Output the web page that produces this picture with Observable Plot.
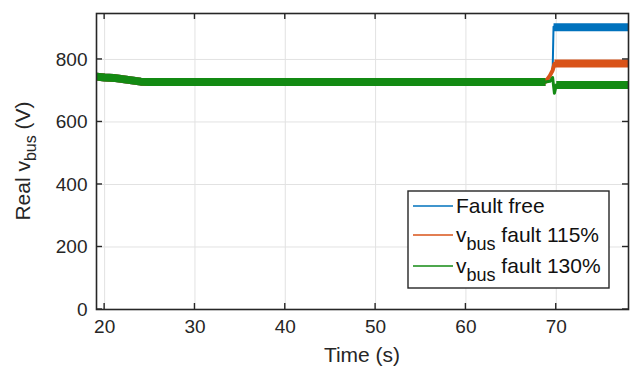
<!DOCTYPE html>
<html>
<head>
<meta charset="utf-8">
<script src="https://cdn.jsdelivr.net/npm/d3@7"></script>
<script src="https://cdn.jsdelivr.net/npm/@observablehq/plot@0.6"></script>
<style>
  html, body { margin: 0; padding: 0; background: #fff; }
  #chart { width: 640px; height: 370px; }
  svg text { font-family: "Liberation Sans", Arial, sans-serif; }
</style>
</head>
<body>
<div id="chart"></div>
<script>
// ---- data ----
// common steady part (all three series overlap)
const sharedTime  = [19.1, 20, 21, 22, 23, 24, 25, 30, 40, 50, 60, 68.8];
const sharedValue = [745, 742, 741, 737, 733, 729, 728, 728, 728, 728, 728, 728];

// transitions around the fault (thin traces)
const blueStepTime   = [68.8, 69.3, 69.6, 69.7];
const blueStepValue  = [728, 745, 762, 905];
const orangeStepTime  = [68.8, 69.3, 69.6, 69.8];
const orangeStepValue = [728, 748, 765, 786];
const greenStepTime  = [68.8, 69.3, 69.6, 69.8, 70.0];
const greenStepValue = [728, 730, 742, 692, 718];

// after the fault (noisy bands)
const blueAfterTime   = [69.7, 72, 75, 78];
const blueAfterValue  = [903, 903, 903, 903];
const orangeAfterTime  = [69.8, 72, 75, 78];
const orangeAfterValue = [787, 787, 787, 787];
const greenAfterTime  = [70.0, 72, 75, 78];
const greenAfterValue = [718, 718, 718, 718];

const xTicks = [20, 30, 40, 50, 60, 70];
const yTicks = [0, 200, 400, 600, 800];

const seriesNames = ["Fault free", "fault 115%", "fault 130%"];
const colors = ["#0072BD", "#D95319", "#138a13"];

const rowsOf = (t, v) => t.map((x, i) => ({t: x, v: v[i]}));
const shared = rowsOf(sharedTime, sharedValue);

const frameColor = "#262626";
const thick = {x: "t", y: "v", strokeWidth: 8, strokeLinejoin: "round", strokeLinecap: "butt"};
const thin = {x: "t", y: "v", strokeWidth: 2, strokeLinejoin: "round"};

const plot = Plot.plot({
  width: 640,
  height: 370,
  marginLeft: 96,
  marginRight: 12,
  marginTop: 13,
  marginBottom: 61,
  style: {fontFamily: "Liberation Sans, Arial, sans-serif", fontSize: "19px", color: "#262626", background: "#fff"},
  x: {domain: [19.1, 78], ticks: xTicks},
  y: {domain: [0, 947], ticks: yTicks},
  marks: [
    Plot.gridX(xTicks, {stroke: "#e2e2e2", strokeOpacity: 1, strokeWidth: 1}),
    Plot.gridY(yTicks, {stroke: "#e2e2e2", strokeOpacity: 1, strokeWidth: 1}),
    // fault free
    Plot.line(shared, {...thick, stroke: colors[0]}),
    Plot.line(rowsOf(blueStepTime, blueStepValue), {...thin, stroke: colors[0]}),
    Plot.line(rowsOf(blueAfterTime, blueAfterValue), {...thick, stroke: colors[0]}),
    // 115 %
    Plot.line(shared, {...thick, stroke: colors[1]}),
    Plot.line(rowsOf(orangeStepTime, orangeStepValue), {...thin, strokeWidth: 4, stroke: colors[1]}),
    Plot.line(rowsOf(orangeAfterTime, orangeAfterValue), {...thick, stroke: colors[1]}),
    // 130 %
    Plot.line(shared, {...thick, stroke: colors[2]}),
    Plot.line(rowsOf(greenStepTime, greenStepValue), {...thin, strokeWidth: 3, stroke: colors[2]}),
    Plot.line(rowsOf(greenAfterTime, greenAfterValue), {...thick, stroke: colors[2]}),
    Plot.axisX(xTicks, {tickSize: 0, tickPadding: 10, label: null, fontSize: 19}),
    Plot.axisY(yTicks, {tickSize: 0, tickPadding: 9, label: null, fontSize: 19}),
    Plot.frame({stroke: frameColor, strokeWidth: 1.6})
  ]
});

document.getElementById("chart").appendChild(plot);

const svg = d3.select(plot);
const sx = plot.scale("x"), sy = plot.scale("y");
const x0 = sx.range[0], x1 = sx.range[1];
const yb = sy.range[0], yt = sy.range[1];
const tk = 6;
const g = svg.append("g").attr("stroke", frameColor).attr("stroke-width", 1.4);
xTicks.forEach(v => {
  const x = sx.apply(v);
  g.append("line").attr("x1", x).attr("x2", x).attr("y1", yb).attr("y2", yb - tk);
  g.append("line").attr("x1", x).attr("x2", x).attr("y1", yt).attr("y2", yt + tk);
});
yTicks.forEach(v => {
  const y = sy.apply(v);
  g.append("line").attr("x1", x0).attr("x2", x0 + tk).attr("y1", y).attr("y2", y);
  g.append("line").attr("x1", x1).attr("x2", x1 - tk).attr("y1", y).attr("y2", y);
});

// x label
svg.append("text").attr("x", (x0 + x1) / 2).attr("y", 362).attr("text-anchor", "middle")
  .attr("font-size", 21).attr("fill", "#262626").text("Time (s)");

// y label with subscript
const yl = svg.append("text").attr("transform", `translate(30,${(yb + yt) / 2}) rotate(-90)`)
  .attr("text-anchor", "middle").attr("font-size", 21).attr("fill", "#262626");
yl.append("tspan").text("Real v");
yl.append("tspan").attr("dy", 6).attr("font-size", 16).text("bus");
yl.append("tspan").attr("dy", -6).text(" (V)");

// legend
const lg = svg.append("g").attr("text-anchor", "start");
lg.append("rect").attr("x", 408).attr("y", 191).attr("width", 201).attr("height", 97)
  .attr("fill", "#fff").attr("stroke", frameColor).attr("stroke-width", 1.4);
const rows = [
  {main: "Fault free", sub: null, y: 213},
  {main: "v", sub: "bus", rest: " fault 115%", y: 242},
  {main: "v", sub: "bus", rest: " fault 130%", y: 273}
];
rows.forEach((r, i) => {
  lg.append("line").attr("x1", 413).attr("x2", 453).attr("y1", r.y - 7).attr("y2", r.y - 7)
    .attr("stroke", colors[i]).attr("stroke-width", 1.6);
  const t = lg.append("text").attr("x", 456).attr("y", r.y).attr("font-size", 21)
    .attr("text-anchor", "start").attr("fill", "#111");
  t.append("tspan").text(r.main);
  if (r.sub) {
    t.append("tspan").attr("dy", 8).attr("font-size", 18).text(r.sub);
    t.append("tspan").attr("dy", -8).text(r.rest);
  }
});
</script>
</body>
</html>
